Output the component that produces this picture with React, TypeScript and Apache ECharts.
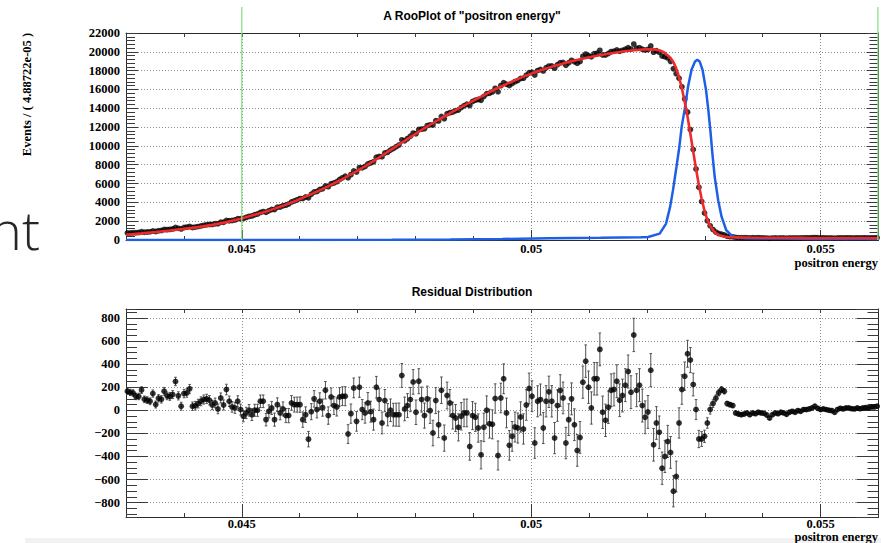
import { useEffect, useRef } from "react";
import * as echarts from "echarts";

const X_MIN = 0.043;
const X_MAX = 0.056;
const BIN_WIDTH = 4.88722e-5;

// Events per bin (266 bins)
const counts: number[] = [
  740, 755, 775, 770, 795, 875, 825, 848, 868, 965,
  900, 986, 1009, 1111, 1103, 1130, 1180, 1328, 1237, 1181,
  1325, 1368, 1442, 1329, 1372, 1428, 1496, 1559, 1613, 1649,
  1656, 1732, 1738, 1891, 1888, 2080, 2050, 2073, 2136, 2266,
  2266, 2292, 2405, 2512, 2558, 2680, 2768, 2934, 3022, 2951,
  3111, 3242, 3243, 3475, 3505, 3642, 3702, 3820, 4048, 4151,
  4269, 4399, 4399, 4572, 4490, 4858, 5107, 5152, 5362, 5445,
  5734, 5666, 5980, 6057, 6197, 6436, 6606, 6770, 6606, 6947,
  7334, 7220, 7692, 7674, 7821, 8084, 8198, 8319, 8790, 8873,
  8860, 9250, 9324, 9558, 9716, 9912, 10108, 10644, 10550, 10775,
  11023, 11366, 11293, 11752, 11783, 11834, 12159, 12237, 12223, 12684,
  12655, 13126, 12883, 13424, 13532, 13594, 13735, 13816, 14074, 14265,
  14427, 14295, 14720, 14863, 14928, 14854, 15248, 15552, 15592, 15742,
  16122, 15768, 16407, 16713, 16557, 16416, 16622, 16831, 16950, 17174,
  17198, 17520, 17777, 17824, 17532, 18008, 18121, 17972, 18302, 18482,
  18498, 18265, 18633, 18849, 18871, 18566, 18841, 19093, 18941, 18790,
  18975, 19516, 19760, 19596, 19478, 19793, 19849, 20160, 19671, 19657,
  19826, 20020, 20072, 20190, 20071, 20158, 20282, 20434, 20289, 20819,
  20374, 20434, 20273, 20187, 20250, 20628, 19961, 20110, 19959, 19548,
  19480, 19350, 18985, 18198, 17676, 17190, 16280, 14996, 13590, 11735,
  9623, 7556, 5601, 4101, 2874, 2040, 1506, 1108, 844, 701,
  620, 535, 388, 359, 336, 262, 246, 235, 236, 241,
  222, 234, 225, 234, 225, 219, 202, 174, 201, 214,
  206, 217, 209, 196, 212, 219, 210, 223, 216, 229,
  228, 233, 240, 254, 235, 223, 228, 221, 214, 210,
  195, 217, 227, 222, 229, 228, 221, 219, 226, 220,
  225, 227, 224, 232, 232, 237,
];

// Residuals (data - fit) per bin
const residuals: number[] = [
  165, 155, 150, 120, 120, 175, 95, 88, 78, 145,
  50, 104, 95, 165, 125, 120, 136, 250, 125, 35,
  145, 150, 186, 35, 40, 58, 78, 93, 99, 87,
  46, 64, 12, 107, 46, 180, 78, 29, 20, 78,
  6, -52, -23, 0, -38, 0, 0, 78, 78, -81,
  -9, 20, -81, 49, -23, 12, -46, -46, 64, 49,
  49, 49, -81, -38, -250, -12, 99, 6, 78, 23,
  174, -46, 116, 41, 29, 116, 122, 122, -206, -29,
  194, -96, 200, 6, -23, 64, -12, -81, 200, 93,
  -110, 84, -38, 0, -38, -38, -38, 302, 12, 41,
  93, 246, -17, 252, 93, -46, 99, -3, -197, 84,
  -125, 174, -241, 128, 64, -46, -67, -148, -52, -23,
  -23, -313, -46, -61, -154, -386, -148, 0, -116, -122,
  102, -392, 107, 273, -23, -304, -226, -145, -154, -58,
  -162, 46, 189, 122, -284, 78, 93, -154, 78, 160,
  78, -241, 41, 171, 107, -284, -81, 99, -125, -348,
  -235, 244, 426, 200, 20, 273, 273, 528, -17, -87,
  26, 174, 180, 252, 87, 128, 218, 336, 157, 653,
  174, 218, 41, -61, -14, 348, -299, -110, -191, -502,
  -400, -270, -365, -702, -574, -110, 180, 296, 490, 435,
  223, 6, -249, -249, -226, -110, 6, 58, 104, 151,
  180, 165, 58, 49, 41, -23, -32, -38, -32, -23,
  -38, -23, -29, -17, -23, -26, -41, -67, -38, -23,
  -29, -17, -23, -35, -17, -9, -17, -3, -9, 6,
  6, 12, 20, 35, 17, 6, 12, 6, 0, -3,
  -17, 6, 17, 12, 20, 20, 14, 12, 20, 14,
  20, 23, 20, 29, 29, 35,
];

// Total fit (red curve), sampled at bin positions
const fitAtBin: number[] = [
  -0.5, 5, 10, 15, 20, 25, 30, 35, 40, 45, 50, 55, 60, 65, 70, 75, 80, 85, 90, 95,
  100, 105, 110, 115, 120, 125, 130, 135, 140, 145, 150, 155, 160, 165, 170, 175, 180,
  183, 185, 186, 187, 188, 189, 190, 191, 192, 193, 194, 195, 196, 197, 198, 199, 200,
  201, 202, 203, 204, 205, 206, 207, 208, 209, 210, 211, 212, 213, 214,
  216, 220, 225, 230, 240, 250, 260, 265.5,
];
const fitValues: number[] = [
  565, 700, 850, 1010, 1180, 1370, 1610, 1900, 2260, 2680, 3120, 3630, 4220, 4870, 5560, 6320, 7140, 8020, 8970, 9950,
  10930, 11880, 12780, 13640, 14450, 15240, 16020, 16720, 17360, 17930, 18420, 18850, 19210, 19520, 19800, 20030, 20200,
  20260, 20280, 20260, 20220, 20150, 20050, 19880, 19620, 19350, 18900, 18250, 17300, 16100, 14700, 13100, 11300, 9400,
  7550, 5850, 4350, 3100, 2150, 1500, 1050, 740, 550, 440, 370, 330, 310, 295,
  278, 260, 245, 235, 222, 212, 205, 202,
];

// Signal component (blue curve)
const signalX: number[] = [
  0.043, 0.046, 0.0476, 0.0486, 0.0495, 0.0503, 0.0512, 0.0519, 0.05202, 0.05222,
  0.05233, 0.0524, 0.05245, 0.05251, 0.05256, 0.0526, 0.05266, 0.05271, 0.05277, 0.05283,
  0.05287, 0.05291, 0.05296, 0.05302, 0.05306, 0.0531, 0.05313, 0.05317, 0.05323, 0.05329,
  0.05337, 0.05346, 0.05355, 0.05372, 0.05429, 0.05498, 0.056,
];
const signalY: number[] = [
  0, 5, 30, 60, 110, 180, 230, 290, 320, 682,
  1748, 3518, 5298, 7782, 9914, 12046, 14178, 16310, 18090, 18975,
  19156, 18975, 18090, 15958, 13826, 11342, 9210, 6716, 4232, 2452,
  1034, 501, 256, 185, 150, 110, 100,
];

const xTickLabels = ["0.045", "0.05", "0.055"];
const cutLines = [0.045, 0.056];
const TOP_MAX = 22000;
const TOP_STEP = 2000;
const RES_MIN = -925;
const RES_MAX = 878;

const binCenter = (i: number) => X_MIN + (i + 0.5) * BIN_WIDTH;

const SERIF = '"Liberation Serif", "Times New Roman", serif';
const SANS = '"Liberation Sans", Arial, sans-serif';
const FRAME = "#2a2a2a";
const TICK = "#3a3a3a";
const GRID_LINE = { color: "#8c8c8c", type: [1, 2] as number[], width: 1 };
const LABEL = { fontFamily: SERIF, fontWeight: "bold" as const, fontSize: 12.5, color: "#000" };

const xLabelFmt = (v: number) => {
  const l = xTickLabels.find((s) => Math.abs(Number(s) - v) < 1e-9);
  return l ? l : "";
};
const yFmt = (v: number) => (v < 0 ? "\u2212" + Math.abs(v) : String(v));

function xAxesFor(g: number, majorLen: number, margin: number) {
  return [
    {
      gridIndex: g, type: "value", position: "bottom", min: X_MIN, max: X_MAX,
      minInterval: 0.005, maxInterval: 0.005,
      axisLine: { show: true, onZero: false, lineStyle: { color: FRAME, width: 1 } },
      axisTick: { show: true, inside: true, length: majorLen, lineStyle: { color: TICK, width: 1 } },
      axisLabel: { show: true, margin, lineHeight: 12, formatter: xLabelFmt, showMinLabel: false, showMaxLabel: false, ...LABEL },
      splitLine: { show: true, lineStyle: GRID_LINE },
    },
    {
      gridIndex: g, type: "value", position: "bottom", min: X_MIN, max: X_MAX, interval: 0.001,
      axisLine: { show: false, onZero: false },
      axisTick: { show: true, inside: true, length: 4, lineStyle: { color: TICK, width: 1 } },
      axisLabel: { show: false },
      splitLine: { show: false },
    },
    {
      gridIndex: g, type: "value", position: "top", min: X_MIN, max: X_MAX, interval: 0.001,
      axisLine: { show: true, onZero: false, lineStyle: { color: FRAME, width: 1 } },
      axisTick: { show: true, inside: true, length: 4, lineStyle: { color: TICK, width: 1 } },
      axisLabel: { show: false },
      splitLine: { show: false },
    },
  ];
}

export default function App() {
  const ref = useRef<HTMLDivElement>(null);

  useEffect(() => {
    if (!ref.current) return;
    const chart = echarts.init(ref.current, null, { renderer: "svg" });

    const dataPoints = counts.map((c, i) => [binCenter(i), c]);
    const fitLine = fitAtBin.map((b, i) => [binCenter(b), fitValues[i]]);
    const sigLine = signalX.map((x, i) => [x, signalY[i]]);
    const resPoints = residuals.map((r, i) => [binCenter(i), r, Math.sqrt(counts[i])]);

    const topY = (pos: string, labels: boolean) => ({
      gridIndex: 0, type: "value", position: pos, min: 0, max: TOP_MAX, interval: TOP_STEP,
      axisLine: { show: true, onZero: false, lineStyle: { color: FRAME, width: 1 } },
      axisTick: { show: true, inside: true, length: 12, lineStyle: { color: TICK, width: 1 } },
      minorTick: { show: true, splitNumber: 5, length: 9, lineStyle: { color: TICK, width: 1 } },
      axisLabel: { show: labels, margin: 6, formatter: yFmt, ...LABEL },
      splitLine: { show: labels, lineStyle: GRID_LINE },
    });
    const resYMajor = (pos: string, labels: boolean) => ({
      gridIndex: 1, type: "value", position: pos, min: RES_MIN, max: RES_MAX,
      minInterval: 200, maxInterval: 200,
      axisLine: { show: true, onZero: false, lineStyle: { color: FRAME, width: 1 } },
      axisTick: { show: true, inside: true, length: 22, lineStyle: { color: TICK, width: 1 } },
      axisLabel: { show: labels, margin: 6, formatter: yFmt, showMinLabel: false, showMaxLabel: false, ...LABEL },
      splitLine: { show: labels, lineStyle: GRID_LINE },
    });
    const resYMinor = (pos: string) => ({
      gridIndex: 1, type: "value", position: pos, min: RES_MIN, max: RES_MAX,
      minInterval: 50, maxInterval: 50,
      axisLine: { show: false, onZero: false },
      axisTick: { show: true, inside: true, length: 11, lineStyle: { color: TICK, width: 1 } },
      axisLabel: { show: false },
      splitLine: { show: false },
    });

    chart.setOption({
      animation: false,
      backgroundColor: "#ffffff",
      grid: [
        { left: 126, right: 2.5, top: 33, height: 207, outerBoundsMode: "none", containLabel: false },
        { left: 126, right: 2.5, top: 309, height: 208, outerBoundsMode: "none", containLabel: false },
      ],
      xAxis: [...xAxesFor(0, 10, 3), ...xAxesFor(1, 13, 1)],
      yAxis: [
        topY("left", true),
        topY("right", false),
        resYMajor("left", true),
        resYMinor("left"),
        resYMajor("right", false),
        resYMinor("right"),
      ],
      series: [
        {
          type: "scatter", name: "data", xAxisIndex: 0, yAxisIndex: 0, data: dataPoints,
          symbol: "circle", symbolSize: 5.8, itemStyle: { color: "#000" }, z: 3,
        },
        {
          type: "line", name: "signal", xAxisIndex: 0, yAxisIndex: 0, data: sigLine,
          showSymbol: false, symbol: "none", lineStyle: { color: "#1f5fe6", width: 2.5 }, z: 4,
        },
        {
          type: "line", name: "fit", xAxisIndex: 0, yAxisIndex: 0, data: fitLine,
          showSymbol: false, symbol: "none", lineStyle: { color: "#ee2a2a", width: 2.6 }, z: 5,
        },
        {
          type: "custom", name: "residual errors", xAxisIndex: 3, yAxisIndex: 2, data: resPoints,
          encode: { x: 0, y: 1 }, z: 2,
          renderItem: (_p: any, api: any) => {
            const x = api.value(0), y = api.value(1), e = api.value(2);
            const t = api.coord([x, y + e]);
            const b = api.coord([x, y - e]);
            const c = 1.3;
            const st = { stroke: "#505050", lineWidth: 1 };
            return {
              type: "group",
              children: [
                { type: "line", shape: { x1: t[0], y1: t[1], x2: b[0], y2: b[1] }, style: st },
                { type: "line", shape: { x1: t[0] - c, y1: t[1], x2: t[0] + c, y2: t[1] }, style: st },
                { type: "line", shape: { x1: b[0] - c, y1: b[1], x2: b[0] + c, y2: b[1] }, style: st },
              ],
            };
          },
        },
        {
          type: "scatter", name: "residuals", xAxisIndex: 3, yAxisIndex: 2,
          data: resPoints.map((p) => [p[0], p[1]]),
          symbol: "circle", symbolSize: 5.8, itemStyle: { color: "#000" }, z: 3,
        },
      ],
    });

    const yBottom = chart.convertToPixel({ yAxisIndex: 0 }, 0) as unknown as number;
    const greenLines = cutLines.map((v, i) => {
      let gx = chart.convertToPixel({ xAxisIndex: 0 }, v) as unknown as number;
      if (i === cutLines.length - 1) gx -= 0.6;
      return {
        type: "line", silent: true, z: 50,
        shape: { x1: gx, y1: 7, x2: gx, y2: yBottom },
        style: { stroke: "#8ae08a", lineWidth: 1.3 },
      };
    });

    const txt = (text: string, x: number, y: number, font: any, align: string, extra: any = {}) => ({
      type: "text", x, y, silent: true, z: 60, ...extra,
      style: { text, ...font, fill: "#000", align, textAlign: align, verticalAlign: "middle", textVerticalAlign: "middle" },
    });

    chart.setOption({
      graphic: [
        { type: "rect", silent: true, z: 0, shape: { x: 25, y: 538, width: 856, height: 5 }, style: { fill: "#f2f2f2" } },
        {
          type: "text", x: 40, y: 229, silent: true, z: 60,
          style: { text: "nt", fontFamily: '"Open Sans", sans-serif', fontSize: 54, fontWeight: 300, fill: "#262626", align: "right", textAlign: "right", verticalAlign: "middle", textVerticalAlign: "middle" },
        },
        txt('A RooPlot of "positron energy"', 472, 16, { fontFamily: SANS, fontWeight: "bold", fontSize: 12 }, "center"),
        txt("Residual Distribution", 472, 291.5, { fontFamily: SANS, fontWeight: "bold", fontSize: 12 }, "center"),
        txt("Events / ( 4.88722e-05 )", 27, 94.5, { fontFamily: SERIF, fontWeight: "bold", fontSize: 12.5 }, "center", { rotation: Math.PI / 2 }),
        txt("positron energy", 878, 263, { fontFamily: SERIF, fontWeight: "bold", fontSize: 12.5, lineHeight: 12 }, "right"),
        txt("positron energy", 878, 537, { fontFamily: SERIF, fontWeight: "bold", fontSize: 12.5, lineHeight: 12 }, "right"),
        ...greenLines,
      ],
    });

    return () => chart.dispose();
  }, []);

  return (
    <div
      ref={ref}
      style={{ position: "fixed", left: 0, top: 0, width: 881, height: 543, background: "#fff" }}
    />
  );
}
